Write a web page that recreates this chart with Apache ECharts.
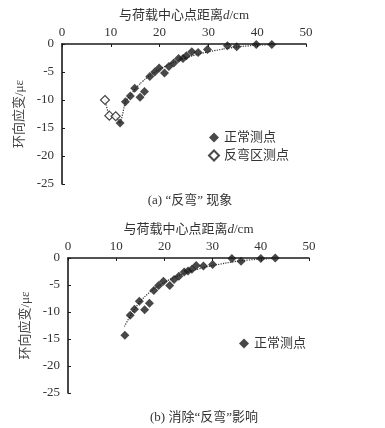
<!DOCTYPE html>
<html><head><meta charset="utf-8">
<script src="https://cdn.jsdelivr.net/npm/echarts@6/dist/echarts.min.js"></script>
<style>html,body{margin:0;padding:0;background:#fff}#c{width:385px;height:428px}</style>
</head><body><div id="c"></div>
<script>
// Panel (a) normal points
const dA = [11.9,13.0,14.0,14.9,16.0,16.9,18.0,19.0,19.9,21.0,21.9,22.9,23.9,24.8,25.5,26.6,27.9,29.8,33.9,35.8,39.8,43.0];
const sA = [-14.1,-10.3,-9.3,-7.9,-9.5,-8.5,-5.8,-5.0,-4.3,-5.2,-4.0,-3.4,-2.6,-2.6,-2.1,-1.4,-1.5,-1.0,-0.3,-0.5,-0.1,-0.1];
// Panel (a) reverse-bend points
const hdA = [8.8,9.7,11.0];
const hsA = [-10.0,-12.8,-12.9];
// Panel (a) dotted line
const tdA = [8.8,9.7,11.0,11.9,13.0,14,15,16,17,18,20,22,24,26,28,30,33,36,40,43];
const tsA = [-10.0,-12.8,-12.9,-14.1,-10.3,-9.2,-8.0,-7.1,-6.3,-5.6,-4.5,-3.6,-2.9,-2.3,-1.8,-1.4,-0.9,-0.5,-0.2,-0.1];
// Panel (b) points
const dB = [11.8,12.9,13.8,14.8,15.9,16.9,17.8,18.8,19.8,21.1,22.0,23.0,24.1,24.9,25.7,26.6,28.1,30.0,34.0,35.9,40.0,43.0];
const sB = [-14.3,-10.6,-9.5,-8.0,-9.6,-8.4,-6.0,-5.1,-4.3,-5.1,-4.0,-3.4,-2.6,-2.4,-2.1,-1.4,-1.5,-1.2,-0.1,-0.6,-0.1,0.0];
// Panel (b) dotted trend
const tdB = [11.7,13,14,15,16,17,18,20,22,24,26,28,30,33,36,40,43];
const tsB = [-12.7,-10.6,-9.2,-8.0,-7.1,-6.3,-5.6,-4.5,-3.6,-2.9,-2.3,-1.8,-1.4,-0.9,-0.5,-0.2,-0.1];
const xTicks = [0,10,20,30,40,50];
const yTicks = [0,-5,-10,-15,-20,-25];

const zip = (a,b) => a.map((v,i)=>[v,b[i]]);
const serif = 'Liberation Serif, Noto Sans CJK SC';
const ink = '#1a1a1a';

function xAx(gi){
  return {gridIndex:gi,type:'value',position:'top',min:xTicks[0],max:xTicks[xTicks.length-1],interval:10,
    name:'与荷载中心点距离{i|d}/cm',nameLocation:'middle',nameGap:22,
    nameTextStyle:{fontFamily:serif,fontSize:13,color:'#333',rich:{i:{fontFamily:'Liberation Serif',fontStyle:'italic',fontSize:13,color:'#333'}}},
    axisLine:{lineStyle:{color:ink,width:1.6}},
    axisTick:{inside:true,length:3,lineStyle:{color:ink}},
    axisLabel:{fontFamily:serif,fontSize:13,color:'#333',margin:5},
    splitLine:{show:false}};
}
function yAx(gi){
  return {gridIndex:gi,type:'value',min:yTicks[yTicks.length-1],max:yTicks[0],interval:5,
    name:'环向应变/με',nameLocation:'middle',nameGap:29,nameRotate:90,
    nameTextStyle:{fontFamily:serif,fontSize:13,color:'#444'},
    axisLine:{onZero:false,lineStyle:{color:ink,width:1.6}},
    axisTick:{inside:true,length:3,lineStyle:{color:ink}},
    axisLabel:{fontFamily:serif,fontSize:13,color:'#333',margin:8},
    splitLine:{show:false}};
}
const chart = echarts.init(document.getElementById('c'),null,{renderer:'canvas'});
chart.setOption({
  animation:false,
  backgroundColor:'#fff',
  grid:[{left:62,top:44,width:244,height:140},{left:68,top:258,width:241,height:135}],
  xAxis:[xAx(0),xAx(1)],
  yAxis:[yAx(0),yAx(1)],
  title:[
    {text:'(a) “反弯” 现象',left:185,top:189,textAlign:'center',textStyle:{fontFamily:serif,fontSize:13,fontWeight:'normal',color:'#333'}},
    {text:'(b) 消除“反弯”影响',left:199,top:406,textAlign:'center',textStyle:{fontFamily:serif,fontSize:13,fontWeight:'normal',color:'#333'}}
  ],
  legend:[
    {left:203,top:126,orient:'vertical',itemGap:5,itemWidth:10,itemHeight:10,
     data:[{name:'正常测点',icon:'diamond'},{name:'反弯区测点',icon:'diamond'}],
     textStyle:{fontFamily:serif,fontSize:13,color:'#333'}},
    {left:234,top:332,orient:'vertical',itemWidth:10,itemHeight:10,
     data:[{name:'正常测点 ',icon:'diamond'}],
     textStyle:{fontFamily:serif,fontSize:13,color:'#333'}}
  ],
  series:[
    {type:'line',xAxisIndex:0,yAxisIndex:0,data:zip(tdA,tsA),showSymbol:false,smooth:0.15,
     lineStyle:{type:'dotted',width:1.2,color:'#333'},silent:true,z:1},
    {name:'正常测点',type:'scatter',xAxisIndex:0,yAxisIndex:0,data:zip(dA,sA),symbol:'diamond',symbolSize:9,
     itemStyle:{color:ink},z:3},
    {name:'反弯区测点',type:'scatter',xAxisIndex:0,yAxisIndex:0,data:zip(hdA,hsA),symbol:'diamond',symbolSize:9,
     itemStyle:{color:'#fff',borderColor:ink,borderWidth:1.2},z:3},
    {type:'line',xAxisIndex:1,yAxisIndex:1,data:zip(tdB,tsB),showSymbol:false,smooth:0.3,
     lineStyle:{type:'dotted',width:1.2,color:'#333'},silent:true,z:1},
    {name:'正常测点 ',type:'scatter',xAxisIndex:1,yAxisIndex:1,data:zip(dB,sB),symbol:'diamond',symbolSize:9,
     itemStyle:{color:ink},z:3}
  ]
});
</script></body></html>
